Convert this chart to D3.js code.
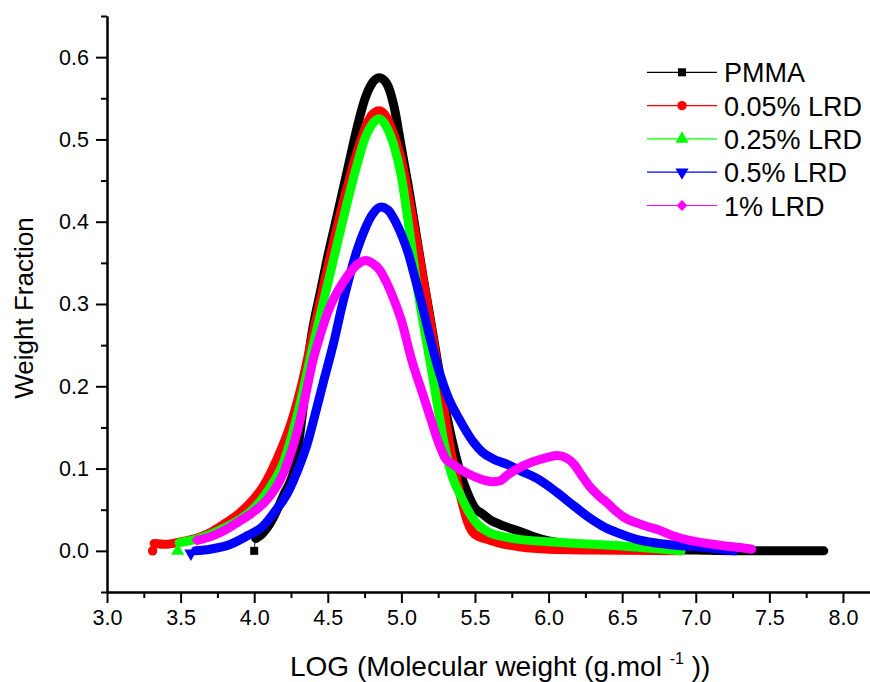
<!DOCTYPE html>
<html><head><meta charset="utf-8">
<script src="https://cdn.jsdelivr.net/npm/d3@7"></script>
<style>body{margin:0;background:#fff}svg{display:block;font-family:Arial,"Liberation Sans",sans-serif}</style>
</head><body><svg id="c" width="870" height="682"></svg>
<script>
const seriesNames = ["PMMA","0.05% LRD","0.25% LRD","0.5% LRD","1% LRD"];
const seriesColors = ["#000000","#ff0000","#00ff00","#0000ff","#ff00ff"];
const seriesSymbols = ["square","circle","triangle","triangleDown","diamond"];

const pmmaX = [4.00,4.01,4.05,4.11,4.20,4.28,4.33,4.38,4.45,4.50,4.55,4.60,4.65,4.70,4.75,4.80,4.85,4.90,4.95,5.00,5.05,5.10,5.15,5.20,5.25,5.30,5.35,5.40,5.45,5.50,5.55,5.60,5.70,5.80,5.90,6.00,6.20,6.50,7.00,7.40,7.87];
const pmmaY = [0.000,0.015,0.020,0.034,0.068,0.105,0.170,0.250,0.315,0.358,0.397,0.436,0.476,0.515,0.548,0.568,0.575,0.568,0.540,0.490,0.440,0.385,0.330,0.278,0.225,0.172,0.130,0.095,0.070,0.052,0.045,0.038,0.030,0.024,0.017,0.012,0.007,0.003,0.001,0.000,0.000];

const lrd005X = [3.31,3.32,3.40,3.50,3.60,3.70,3.79,3.88,3.95,4.06,4.18,4.25,4.32,4.40,4.50,4.60,4.70,4.75,4.80,4.85,4.90,4.95,5.00,5.05,5.10,5.15,5.20,5.25,5.30,5.35,5.40,5.45,5.50,5.60,5.70,5.80,5.90,6.00,6.30,6.90];
const lrd005Y = [0.000,0.009,0.008,0.011,0.015,0.022,0.032,0.043,0.054,0.078,0.122,0.155,0.200,0.265,0.345,0.420,0.485,0.512,0.530,0.535,0.527,0.505,0.475,0.430,0.380,0.328,0.275,0.218,0.160,0.108,0.068,0.035,0.020,0.013,0.008,0.005,0.003,0.002,0.001,0.000];

const lrd025X = [3.48,3.49,3.55,3.60,3.70,3.80,3.90,4.00,4.10,4.20,4.30,4.40,4.50,4.60,4.70,4.75,4.80,4.85,4.90,4.95,5.00,5.05,5.10,5.15,5.20,5.25,5.30,5.35,5.40,5.45,5.50,5.60,5.70,5.80,6.00,6.20,6.50,6.70,6.90];
const lrd025Y = [0.000,0.010,0.012,0.014,0.020,0.028,0.038,0.052,0.075,0.108,0.170,0.250,0.325,0.400,0.470,0.500,0.518,0.525,0.515,0.492,0.455,0.395,0.330,0.275,0.225,0.172,0.122,0.088,0.068,0.050,0.036,0.022,0.017,0.014,0.011,0.009,0.006,0.003,0.000];

const lrd05X = [3.57,3.60,3.70,3.84,3.95,4.06,4.15,4.22,4.30,4.36,4.42,4.47,4.54,4.60,4.65,4.70,4.75,4.80,4.86,4.91,4.96,5.01,5.05,5.08,5.15,5.20,5.26,5.31,5.40,5.49,5.55,5.62,5.72,5.80,5.94,6.05,6.17,6.28,6.40,6.50,6.62,6.80,7.07,7.26];
const lrd05Y = [-0.003,0.000,0.002,0.008,0.018,0.030,0.050,0.068,0.100,0.130,0.170,0.205,0.253,0.300,0.335,0.366,0.390,0.408,0.418,0.414,0.400,0.380,0.360,0.340,0.292,0.255,0.216,0.190,0.158,0.132,0.120,0.112,0.105,0.098,0.086,0.072,0.055,0.040,0.027,0.020,0.013,0.008,0.004,0.000];

const lrd1X = [3.61,3.62,3.70,3.80,3.90,4.00,4.10,4.20,4.30,4.35,4.40,4.45,4.50,4.55,4.60,4.65,4.70,4.76,4.80,4.85,4.90,4.95,5.00,5.07,5.15,5.20,5.26,5.30,5.35,5.40,5.45,5.50,5.56,5.62,5.67,5.72,5.79,5.86,5.94,6.00,6.06,6.12,6.17,6.22,6.28,6.34,6.40,6.46,6.51,6.60,6.68,6.74,6.85,6.95,7.08,7.20,7.30,7.38];
const lrd1Y = [0.013,0.013,0.017,0.025,0.036,0.048,0.065,0.095,0.150,0.190,0.232,0.263,0.290,0.310,0.325,0.338,0.348,0.353,0.350,0.342,0.326,0.305,0.280,0.232,0.188,0.160,0.128,0.112,0.105,0.099,0.094,0.090,0.086,0.084,0.085,0.092,0.100,0.106,0.111,0.114,0.116,0.113,0.106,0.093,0.078,0.067,0.058,0.048,0.041,0.034,0.029,0.026,0.018,0.013,0.009,0.006,0.004,0.002];

const xData = [pmmaX, lrd005X, lrd025X, lrd05X, lrd1X];
const yData = [pmmaY, lrd005Y, lrd025Y, lrd05Y, lrd1Y];

const xMajor = [3.0,3.5,4.0,4.5,5.0,5.5,6.0,6.5,7.0,7.5,8.0];
const yMajor = [0.0,0.1,0.2,0.3,0.4,0.5,0.6];

const svg = d3.select("#c");
const x = d3.scaleLinear().domain([3.0, 8.2]).range([107, 872.4]);
const y = d3.scaleLinear().domain([-0.05, 0.65]).range([592, 16]);

const xMinor = d3.range(3.25, 8.2, 0.5);
const yMinor = d3.range(-0.05, 0.66, 0.1);

svg.append("g").attr("transform", "translate(0,592)")
  .call(d3.axisBottom(x).tickValues(xMajor).tickFormat(d3.format(".1f")).tickSize(11).tickPadding(7).tickSizeOuter(0));
svg.append("g").attr("transform", "translate(0,592)")
  .call(d3.axisBottom(x).tickValues(xMinor).tickFormat("").tickSize(6).tickSizeOuter(0));
svg.append("g").attr("transform", "translate(107,0)")
  .call(d3.axisLeft(y).tickValues(yMajor).tickFormat(d3.format(".1f")).tickSize(11).tickPadding(7).tickSizeOuter(0));
svg.append("g").attr("transform", "translate(107,0)")
  .call(d3.axisLeft(y).tickValues(yMinor).tickFormat("").tickSize(6).tickSizeOuter(0));

svg.selectAll(".domain").attr("stroke", "#000").attr("stroke-width", 2);
svg.selectAll(".tick line").attr("stroke", "#000").attr("stroke-width", 2);
svg.selectAll(".tick text").attr("font-size", 21.5).attr("fill", "#000").attr("font-family", "Arial, 'Liberation Sans', sans-serif");

svg.append("text").attr("transform", "translate(33,308) rotate(-90)")
  .attr("text-anchor", "middle").attr("font-size", 26).text("Weight Fraction");
const xt = svg.append("text").attr("x", 290).attr("y", 676).attr("font-size", 28);
xt.append("tspan").text("LOG (Molecular weight (g.mol ");
xt.append("tspan").attr("font-size", 16).attr("dy", -12).text("-1");
xt.append("tspan").attr("dy", 12).text(" ))");

const symType = {square: d3.symbolSquare, circle: d3.symbolCircle, triangle: d3.symbolTriangle, triangleDown: d3.symbolTriangle, diamond: d3.symbolSquare};
const symSize = {square: 64, circle: 70, triangle: 75, triangleDown: 75, diamond: 58};
const symRot = {square: 0, circle: 0, triangle: 0, triangleDown: 180, diamond: 45};
function drawSymbol(g, name, cx, cy, color) {
  g.append("path").attr("d", d3.symbol().type(symType[name]).size(symSize[name])())
    .attr("transform", `translate(${cx},${cy}) rotate(${symRot[name]})`).attr("fill", color);
}

const plot = svg.append("g");
const line = d3.line().x(d => x(d[0])).y(d => y(d[1])).curve(d3.curveMonotoneX);

seriesNames.forEach((name, i) => {
  const pts = xData[i].map((xv, j) => [xv, yData[i][j]]);
  const color = seriesColors[i];
  plot.append("path").attr("d", line(pts)).attr("fill", "none").attr("stroke", color).attr("stroke-width", 1);
  plot.append("path").attr("d", line(pts.slice(1))).attr("fill", "none").attr("stroke", color)
    .attr("stroke-width", 9).attr("stroke-linejoin", "round").attr("stroke-linecap", "round");
  drawSymbol(plot, seriesSymbols[i], x(pts[0][0]), y(pts[0][1]), color);
});

const leg = svg.append("g");
seriesNames.forEach((name, i) => {
  const cy = 72.3 + i * 33.3;
  leg.append("line").attr("x1", 647).attr("x2", 717).attr("y1", cy).attr("y2", cy)
    .attr("stroke", seriesColors[i]).attr("stroke-width", 1.2);
  drawSymbol(leg, seriesSymbols[i], 682, cy, seriesColors[i]);
  leg.append("text").attr("x", 724).attr("y", cy + 10).attr("font-size", 27).text(name);
});
</script></body></html>
